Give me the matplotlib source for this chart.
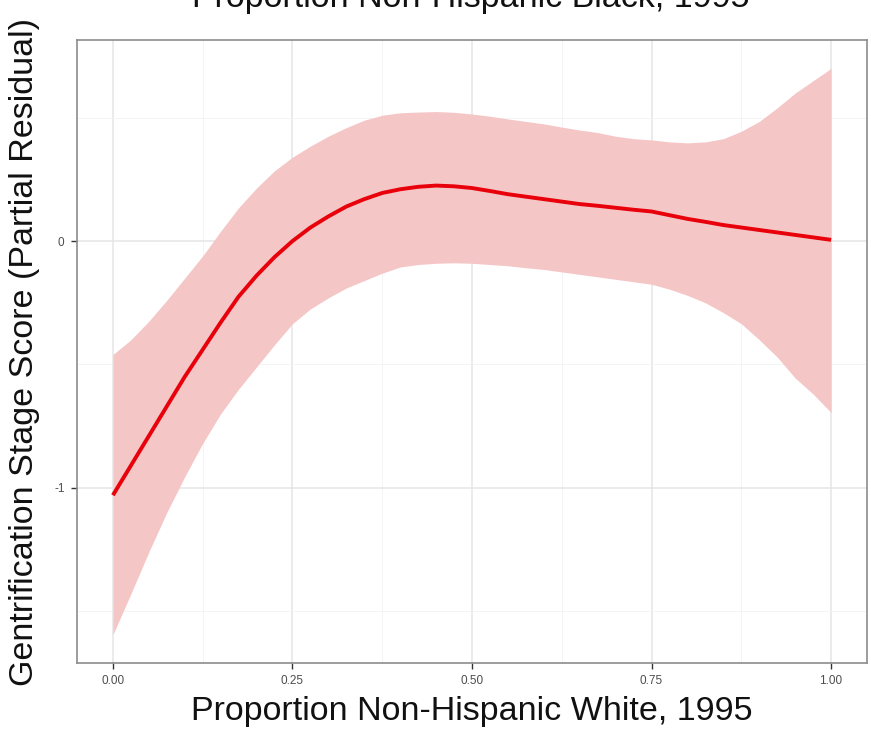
import matplotlib
matplotlib.use("Agg")
import matplotlib.pyplot as plt

plt.rcParams['font.family'] = ['Liberation Sans', 'DejaVu Sans']

# Data
x_vals = [0.000, 0.025, 0.050, 0.075, 0.100, 0.125, 0.150, 0.175, 0.200, 0.225,
          0.250, 0.275, 0.300, 0.325, 0.350, 0.375, 0.400, 0.425, 0.450, 0.475,
          0.500, 0.525, 0.550, 0.575, 0.600, 0.625, 0.650, 0.675, 0.700, 0.725,
          0.750, 0.775, 0.800, 0.825, 0.850, 0.875, 0.900, 0.925, 0.950, 0.975,
          1.000]
fit = [-1.03, -0.91, -0.79, -0.67, -0.55, -0.44, -0.33, -0.225, -0.14, -0.065,
       0.00, 0.055, 0.10, 0.14, 0.17, 0.195, 0.21, 0.22, 0.225, 0.222,
       0.215, 0.203, 0.19, 0.18, 0.17, 0.16, 0.15, 0.143, 0.135, 0.127,
       0.12, 0.105, 0.09, 0.078, 0.065, 0.055, 0.045, 0.035, 0.025, 0.015,
       0.005]
upper = [-0.46, -0.40, -0.325, -0.24, -0.15, -0.06, 0.04, 0.135, 0.215, 0.285,
         0.34, 0.385, 0.425, 0.46, 0.49, 0.51, 0.52, 0.523, 0.525, 0.522,
         0.515, 0.506, 0.495, 0.485, 0.475, 0.462, 0.45, 0.44, 0.425, 0.415,
         0.41, 0.402, 0.398, 0.402, 0.415, 0.445, 0.485, 0.54, 0.60, 0.65,
         0.70]
lower = [-1.595, -1.43, -1.26, -1.10, -0.955, -0.82, -0.70, -0.60, -0.51, -0.42,
         -0.335, -0.275, -0.23, -0.19, -0.16, -0.13, -0.105, -0.095, -0.09, -0.088,
         -0.09, -0.095, -0.10, -0.108, -0.115, -0.125, -0.135, -0.145, -0.155, -0.165,
         -0.175, -0.195, -0.22, -0.25, -0.29, -0.335, -0.40, -0.47, -0.555, -0.62,
         -0.695]

x_ticks = [0.00, 0.25, 0.50, 0.75, 1.00]
x_ticklabels = ["0.00", "0.25", "0.50", "0.75", "1.00"]
x_minor = [0.125, 0.375, 0.625, 0.875]
y_ticks = [-1, 0]
y_ticklabels = ["-1", "0"]
y_minor = [-1.5, -0.5, 0.5]

title = "Proportion Non-Hispanic Black, 1995"
xlabel = "Proportion Non-Hispanic White, 1995"
ylabel = "Gentrification Stage Score (Partial Residual)"

fig = plt.figure(figsize=(8.71, 7.35), dpi=100)
ax = fig.add_axes([77/871, 1 - 663/735, (867 - 77)/871, (663 - 40)/735])

ax.fill_between(x_vals, lower, upper, color='#F5C6C6', linewidth=0, zorder=2)
ax.plot(x_vals, fit, color='#E8000B', linewidth=2.8, zorder=3,
        solid_capstyle='butt', solid_joinstyle='round')

ax.set_xlim(-0.05, 1.05)
ax.set_ylim(-1.71, 0.815)

ax.set_xticks(x_ticks)
ax.set_xticklabels(x_ticklabels)
ax.set_xticks(x_minor, minor=True)
ax.set_yticks(y_ticks)
ax.set_yticklabels(y_ticklabels)
ax.set_yticks(y_minor, minor=True)

ax.grid(which='major', color='#E6E6E6', linewidth=1.1, zorder=0)
ax.grid(which='minor', color='#F2F2F2', linewidth=0.6, zorder=0)
ax.set_axisbelow(True)

ax.tick_params(which='major', length=4, width=1.0, color='#333333',
               labelsize=8.5, labelcolor='#4D4D4D', pad=5)
ax.tick_params(which='minor', length=0)

for s in ax.spines.values():
    s.set_color('#8C8C8C')
    s.set_linewidth(1.2)

ax.set_xlabel(xlabel, fontsize=24.5, color='#111111', labelpad=6)
ax.set_ylabel(ylabel, fontsize=24.5, color='#111111', labelpad=10)

fig.text(0.54, 1 - 7/735, title, fontsize=24.5, color='#111111',
         ha='center', va='baseline')

fig.savefig("out.png", dpi=100)
